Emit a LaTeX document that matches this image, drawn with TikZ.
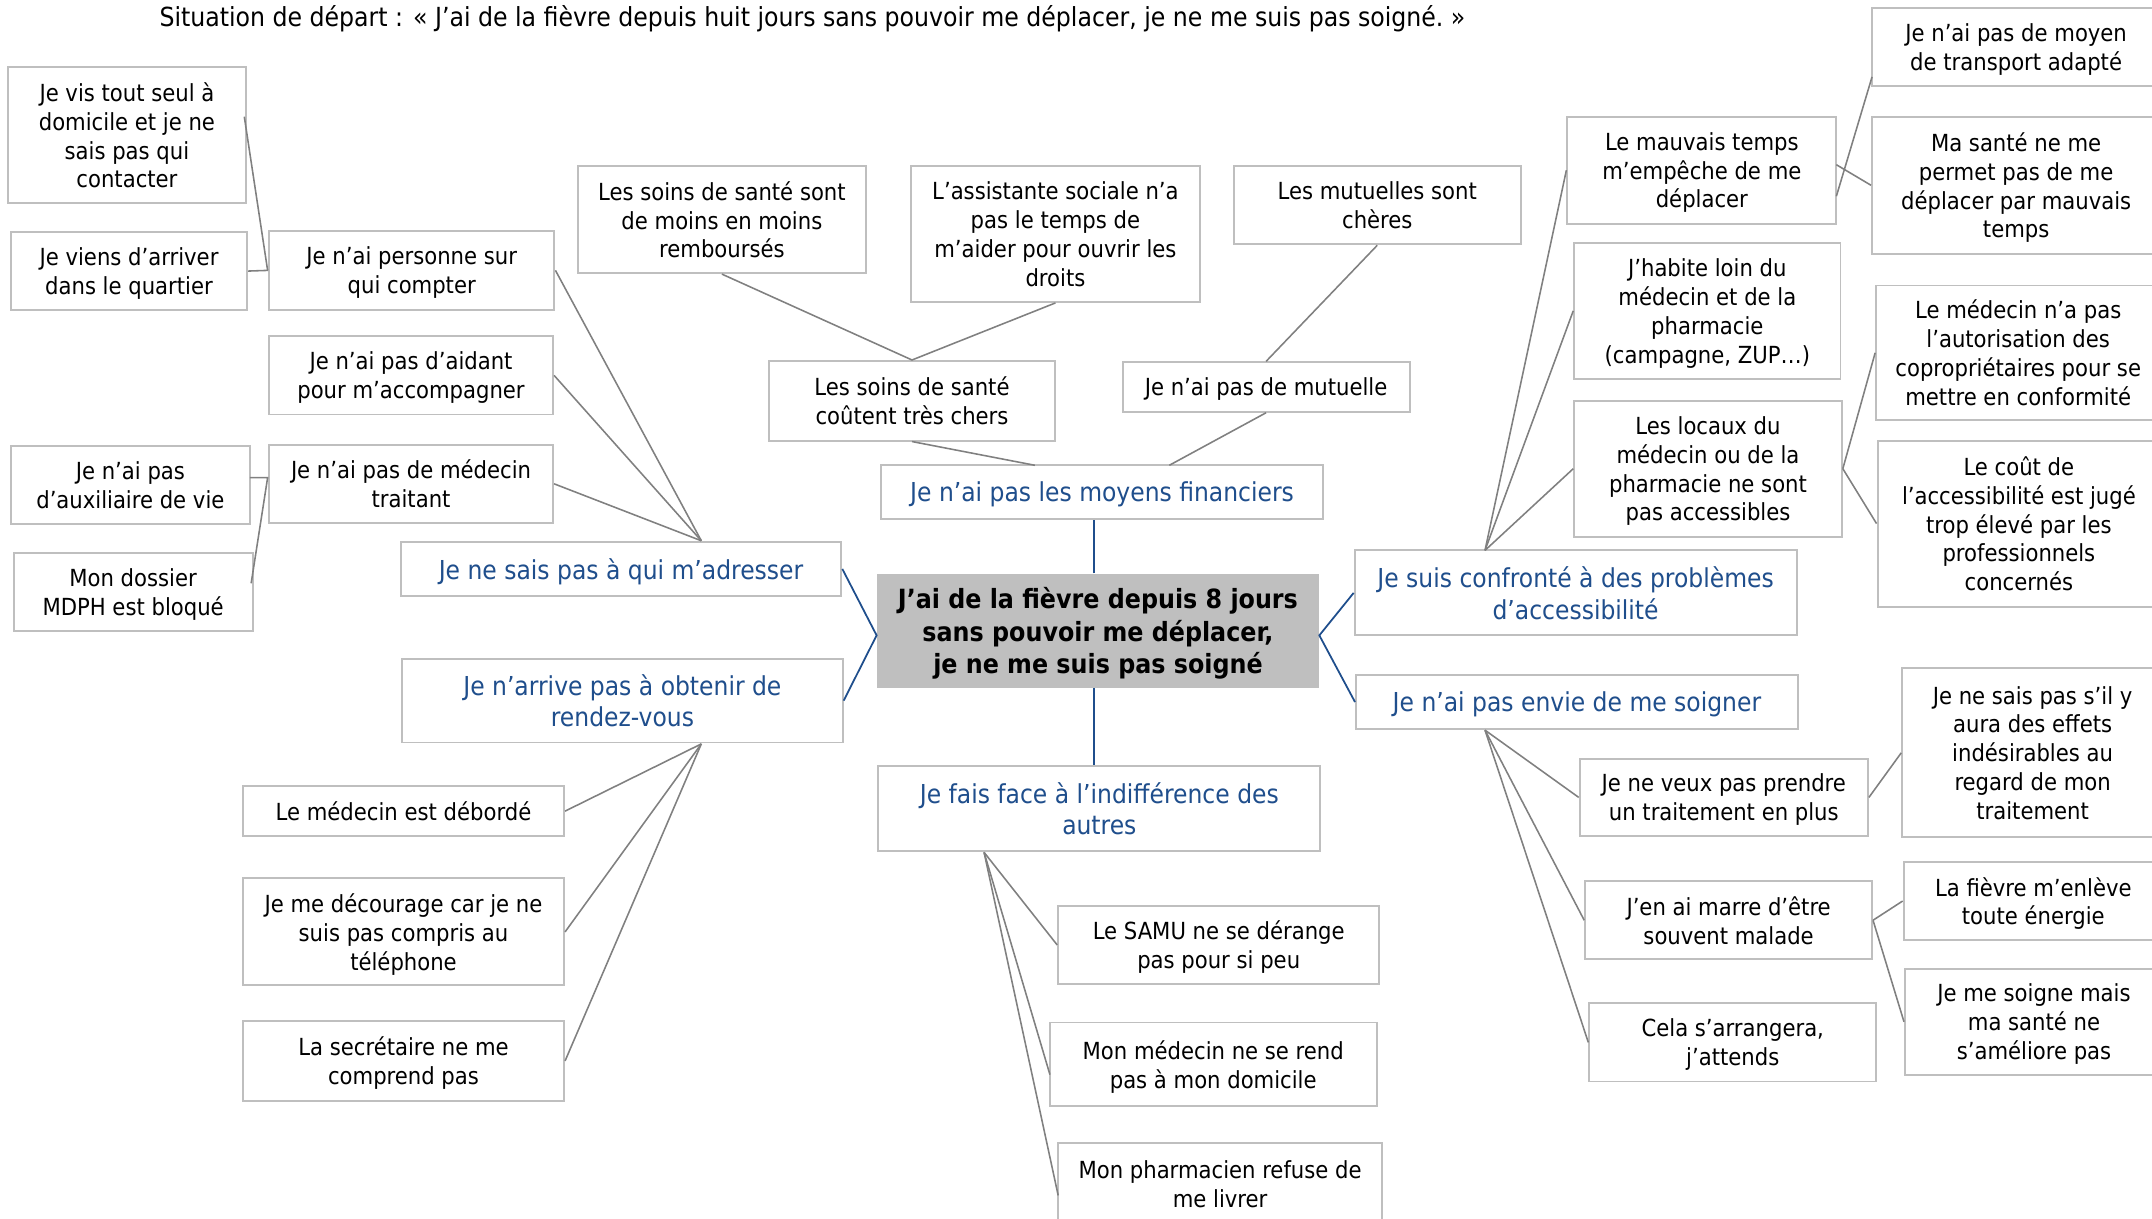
\documentclass[tikz,border=0pt]{standalone}
\usepackage{fontspec}
\setmainfont{DejaVu Sans Condensed}
\definecolor{boxgray}{HTML}{BFBFBF}
\definecolor{linegray}{HTML}{808080}
\definecolor{blueT}{HTML}{1F4E8C}
\newcommand\bx[7]{%
  \pgfmathsetmacro\bw{(#4-#2)*0.7}%
  \pgfmathsetmacro\bh{(#5-#3)*0.7}%
  \node[#6,minimum width=\bw pt,minimum height=\bh pt] (#1) at ({(#2+#4)/2},{(#3+#5)/2}) {#7};}
\tikzset{
  box/.style={draw=boxgray,line width=1pt,inner sep=0pt,align=center,fill=white},
  txt/.style={box,font=\fontsize{12}{14.7}\selectfont,text=black,text depth=0pt},
  blu/.style={box,font=\fontsize{13.3}{16.1}\selectfont,text=blueT,text depth=0pt},
  ctr/.style={fill=boxgray,inner sep=0pt,align=center,font=\bfseries\fontsize{13.5}{16.5}\selectfont,text=black,text depth=0pt},
  gl/.style={draw=linegray,line width=0.8pt},
  bl/.style={draw=blueT,line width=0.9pt}
}
\begin{document}
\begin{tikzpicture}[x=0.7pt,y=-0.7pt]
\useasboundingbox (0,0) rectangle (1568,888);
\node[font=\fontsize{13.4}{15}\selectfont] (title) at (592,14) {Situation de départ~: «~J’ai de la fièvre depuis huit jours sans pouvoir me déplacer, je ne me suis pas soigné.~»};
% left
\bx{A1}{6}{49}{179}{148}{txt}{Je vis tout seul à\\domicile et je ne\\sais pas qui\\contacter}
\bx{A2}{8}{169}{180}{226}{txt}{Je viens d’arriver\\dans le quartier}
\bx{A3}{196}{168}{404}{226}{txt}{Je n’ai personne sur\\qui compter}
\bx{A4}{196}{245}{403}{302}{txt}{Je n’ai pas d’aidant\\pour m’accompagner}
\bx{A5}{8}{325}{182}{382}{txt}{Je n’ai pas\\d’auxiliaire de vie}
\bx{A6}{196}{324}{403}{381}{txt}{Je n’ai pas de médecin\\traitant}
\bx{A7}{10}{403}{184}{460}{txt}{Mon dossier\\MDPH est bloqué}
\bx{L1}{292}{395}{613}{434}{blu}{Je ne sais pas à qui m’adresser}
\bx{L2}{293}{480}{614}{541}{blu}{Je n’arrive pas à obtenir de\\rendez-vous}
\bx{B1}{177}{573}{411}{609}{txt}{Le médecin est débordé}
\bx{B2}{177}{640}{411}{718}{txt}{Je me décourage car je ne\\suis pas compris au\\téléphone}
\bx{B3}{177}{744}{411}{802}{txt}{La secrétaire ne me\\comprend pas}
% centre
\bx{C}{639}{418}{961}{501}{ctr}{J’ai de la fièvre depuis 8 jours\\sans pouvoir me déplacer,\\je ne me suis pas soigné}
\bx{T1}{642}{339}{964}{378}{blu}{Je n’ai pas les moyens financiers}
\bx{T2}{560}{263}{769}{321}{txt}{Les soins de santé\\coûtent très chers}
\bx{T3}{818}{264}{1027}{300}{txt}{Je n’ai pas de mutuelle}
\bx{T4}{421}{121}{631}{199}{txt}{Les soins de santé sont\\de moins en moins\\remboursés}
\bx{T5}{664}{121}{874}{220}{txt}{L’assistante sociale n’a\\pas le temps de\\m’aider pour ouvrir les\\droits}
\bx{T6}{899}{121}{1108}{178}{txt}{Les mutuelles sont\\chères}
\bx{M1}{640}{558}{962}{620}{blu}{Je fais face à l’indifférence des\\autres}
\bx{M2}{771}{660}{1005}{717}{txt}{Le SAMU ne se dérange\\pas pour si peu}
\bx{M3}{765}{745}{1003}{806}{txt}{Mon médecin ne se rend\\pas à mon domicile}
\bx{M4}{771}{833}{1007}{893}{txt}{Mon pharmacien refuse de\\me livrer}
% right
\bx{R1}{987}{401}{1309}{463}{blu}{Je suis confronté à des problèmes\\d’accessibilité}
\bx{R2}{988}{492}{1310}{531}{blu}{Je n’ai pas envie de me soigner}
\bx{D1}{1142}{85}{1338}{163}{txt}{Le mauvais temps\\m’empêche de me\\déplacer}
\bx{D2}{1147}{177}{1341}{276}{txt}{J’habite loin du\\médecin et de la\\pharmacie\\(campagne, ZUP…)}
\bx{D3}{1147}{292}{1342}{391}{txt}{Les locaux du\\médecin ou de la\\pharmacie ne sont\\pas accessibles}
\bx{E1}{1364}{6}{1574}{63}{txt}{Je n’ai pas de moyen\\de transport adapté}
\bx{E2}{1364}{85}{1574}{185}{txt}{Ma santé ne me\\permet pas de me\\déplacer par mauvais\\temps}
\bx{E3}{1367}{208}{1574}{306}{txt}{Le médecin n’a pas\\l’autorisation des\\copropriétaires pour se\\mettre en conformité}
\bx{E4}{1368}{321}{1574}{442}{txt}{Le coût de\\l’accessibilité est jugé\\trop élevé par les\\professionnels\\concernés}
\bx{F1}{1151}{553}{1361}{609}{txt}{Je ne veux pas prendre\\un traitement en plus}
\bx{F2}{1155}{642}{1364}{699}{txt}{J’en ai marre d’être\\souvent malade}
\bx{F3}{1158}{731}{1367}{788}{txt}{Cela s’arrangera,\\j’attends}
\bx{G1}{1386}{487}{1576}{610}{txt}{Je ne sais pas s’il y\\aura des effets\\indésirables au\\regard de mon\\traitement}
\bx{G2}{1387}{628}{1576}{685}{txt}{La fièvre m’enlève\\toute énergie}
\bx{G3}{1388}{706}{1576}{783}{txt}{Je me soigne mais\\ma santé ne\\s’améliore pas}
% junction points
\coordinate (pA1) at (178,85);
\coordinate (jA3) at (195,197);
\coordinate (pA5) at (182,348);
\coordinate (jA6) at (195,348);
\coordinate (pA7) at (183,425);
\coordinate (jL1) at (511,394);
\coordinate (jL2) at (511,542);
\coordinate (jT1a) at (754,339);
\coordinate (jT1b) at (852,339);
\coordinate (jM1) at (717,621);
\coordinate (pM3) at (765,783);
\coordinate (pM4) at (771,871);
\coordinate (jR1) at (1082,401);
\coordinate (jR2) at (1082,532);
\coordinate (pD1a) at (1338,143);
\coordinate (pD1b) at (1338,120);
\coordinate (pE1) at (1364,56);
\coordinate (cW) at ([yshift=-2.4pt]C.west);
\coordinate (cE) at ([yshift=-2.4pt]C.east);
\coordinate (cN) at ([xshift=-2pt]C.north);
\coordinate (cS) at ([xshift=-2pt]C.south);
% connectors
\draw[gl] (pA1) -- (jA3);
\draw[gl] (A2.east) -- (A3.west);
\draw[gl] (pA5) -- (jA6) -- (pA7);
\draw[gl] (A3.east) -- (jL1);
\draw[gl] (A4.east) -- (jL1);
\draw[gl] (A6.east) -- (jL1);
\draw[bl] (L1.east) -- (cW) -- (L2.east);
\draw[gl] (jL2) -- (B1.east);
\draw[gl] (jL2) -- (B2.east);
\draw[gl] (jL2) -- (B3.east);
\draw[gl] (T4.south) -- (T2.north) -- (T5.south);
\draw[gl] (T2.south) -- (jT1a);
\draw[gl] (T3.south) -- (jT1b);
\draw[gl] (T6.south) -- (T3.north);
\draw[bl] (cN) -- (cN |- T1.south);
\draw[bl] (cS) -- (cS |- M1.north);
\draw[gl] (jM1) -- (M2.west);
\draw[gl] (jM1) -- (pM3);
\draw[gl] (jM1) -- (pM4);
\draw[bl] (R1.west) -- (cE) -- (R2.west);
\draw[gl] (jR1) -- (D1.west);
\draw[gl] (jR1) -- (D2.west);
\draw[gl] (jR1) -- (D3.west);
\draw[gl] (pD1a) -- (pE1);
\draw[gl] (pD1b) -- (E2.west);
\draw[gl] (D3.east) -- (E3.west);
\draw[gl] (D3.east) -- (E4.west);
\draw[gl] (jR2) -- (F1.west);
\draw[gl] (jR2) -- (F2.west);
\draw[gl] (jR2) -- (F3.west);
\draw[gl] (F1.east) -- (G1.west);
\draw[gl] (F2.east) -- (G2.west);
\draw[gl] (F2.east) -- (G3.west);
\end{tikzpicture}
\end{document}
